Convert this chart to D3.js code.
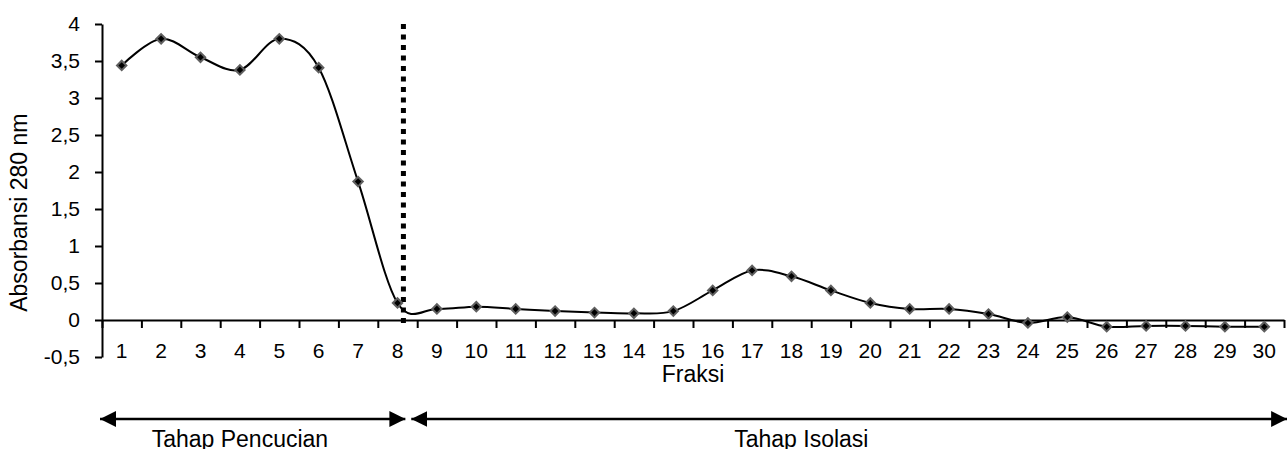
<!DOCTYPE html>
<html>
<head>
<meta charset="utf-8">
<script src="https://cdn.jsdelivr.net/npm/d3@7"></script>
<style>
  body { margin: 0; background: #fff; }
  svg { display: block; font-family: "Liberation Sans", Arial, sans-serif; }
</style>
</head>
<body>
<div id="chart"></div>
<script>
// fraction numbers and absorbance readings (A280)
const fractions = d3.range(1, 31);
const absorbance = [3.44, 3.80, 3.55, 3.38, 3.80, 3.41, 1.87, 0.23, 0.15, 0.18,
                    0.15, 0.12, 0.10, 0.09, 0.12, 0.40, 0.67, 0.59, 0.40, 0.23,
                    0.15, 0.15, 0.08, -0.04, 0.04, -0.09, -0.08, -0.08, -0.09, -0.09];
const yTicks = [-0.5, 0, 0.5, 1, 1.5, 2, 2.5, 3, 3.5, 4];

// washing / isolation phases (in fraction units)
const phaseNames = ["Tahap Pencucian", "Tahap Isolasi"];
const phaseStart = [0.45, 8.35];
const phaseEnd = [8.2, 30.58];
const phaseLabelAt = [4.0, 18.25];
const separatorAt = 8.15;

const svgWidth = 1287;
const svgHeight = 449;
const margin = {top: 24, left: 102, right: 3, bottom: 92};
const chartWidth = svgWidth - margin.left - margin.right;
const chartHeight = svgHeight - margin.top - margin.bottom;

const data = fractions.map((f, i) => ({f: f, v: absorbance[i]}));

const svg = d3.select("#chart").append("svg")
    .attr("width", svgWidth)
    .attr("height", svgHeight);

const chart = svg.append("g")
    .attr("transform", `translate(${margin.left}, ${margin.top})`);

// scales
const xScale = d3.scaleLinear()
    .domain([0.5, 30.5])
    .range([0, chartWidth]);

const yScale = d3.scaleLinear()
    .domain([-0.5, 4])
    .range([chartHeight, 0]);

// y axis
const yAxis = d3.axisLeft(yScale)
    .tickValues(yTicks)
    .tickSize(7)
    .tickSizeOuter(0)
    .tickPadding(15)
    .tickFormat(d => String(d).replace(".", ","));

const yAxisGroup = chart.append("g").call(yAxis);
yAxisGroup.selectAll("text").attr("font-size", 21).attr("fill", "#000");

// x axis on zero line, ticks between categories
const xAxis = d3.axisBottom(xScale)
    .tickValues(d3.range(0.5, 31, 1))
    .tickSize(8)
    .tickSizeOuter(0)
    .tickFormat("");

chart.append("g")
    .attr("transform", `translate(0, ${yScale(0)})`)
    .call(xAxis);

chart.selectAll(".domain, .tick line")
    .attr("stroke", "#000")
    .attr("stroke-width", 2);

// category labels
chart.append("g").selectAll("text")
    .data(fractions)
    .enter()
    .append("text")
    .attr("x", d => xScale(d))
    .attr("y", chartHeight + 1)
    .attr("text-anchor", "middle")
    .attr("font-size", 21)
    .text(d => d);

// axis titles
chart.append("text")
    .attr("x", 0.5 * chartWidth)
    .attr("y", chartHeight + 25)
    .attr("text-anchor", "middle")
    .attr("font-size", 23)
    .text("Fraksi");

chart.append("text")
    .attr("transform", "rotate(-90)")
    .attr("x", -yScale(1.45))
    .attr("y", -75)
    .attr("text-anchor", "middle")
    .attr("font-size", 23)
    .text("Absorbansi 280 nm");

// dotted separator
chart.append("line")
    .attr("x1", xScale(separatorAt))
    .attr("x2", xScale(separatorAt))
    .attr("y1", yScale(4))
    .attr("y2", yScale(-0.1))
    .attr("stroke", "#000")
    .attr("stroke-width", 5)
    .attr("stroke-dasharray", "5 5.5");

// smoothed line
const line = d3.line()
    .x(d => xScale(d.f))
    .y(d => yScale(d.v))
    .curve(d3.curveCardinal.tension(0));

chart.append("path")
    .datum(data)
    .attr("fill", "none")
    .attr("stroke", "#000")
    .attr("stroke-width", 2)
    .attr("d", line);

// diamond markers
const marker = d3.symbol(d3.symbolSquare, 44);
chart.selectAll(".marker")
    .data(data)
    .enter()
    .append("path")
    .attr("class", "marker")
    .attr("transform", d => `translate(${xScale(d.f)}, ${yScale(d.v)}) rotate(45)`)
    .attr("d", marker)
    .attr("fill", "#000")
    .attr("stroke", "#5f5f5f")
    .attr("stroke-width", 2);

// phase arrows
const defs = svg.append("defs");
defs.append("marker")
    .attr("id", "arrow")
    .attr("viewBox", "0 0 16 16")
    .attr("refX", 16)
    .attr("refY", 8)
    .attr("markerWidth", 16)
    .attr("markerHeight", 16)
    .attr("markerUnits", "userSpaceOnUse")
    .attr("orient", "auto-start-reverse")
    .append("path")
    .attr("d", "M0,0 L16,8 L0,16 Z")
    .attr("fill", "#000");

const arrowY = chartHeight + 62;
const phases = chart.append("g");
phaseNames.forEach((name, i) => {
    phases.append("line")
        .attr("x1", xScale(phaseStart[i]))
        .attr("x2", xScale(phaseEnd[i]))
        .attr("y1", arrowY)
        .attr("y2", arrowY)
        .attr("stroke", "#000")
        .attr("stroke-width", 2.5)
        .attr("marker-start", "url(#arrow)")
        .attr("marker-end", "url(#arrow)");

    phases.append("text")
        .attr("x", xScale(phaseLabelAt[i]))
        .attr("y", arrowY + 28)
        .attr("text-anchor", "middle")
        .attr("font-size", 23)
        .text(name);
});
</script>
</body>
</html>
